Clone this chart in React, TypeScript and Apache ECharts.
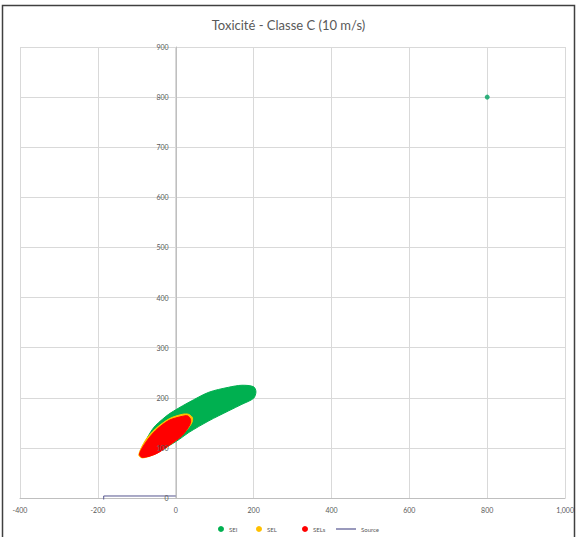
import React, { useEffect, useRef } from "react";
import * as echarts from "echarts";

const xTicks = [-400, -200, 0, 200, 400, 600, 800, 1000];
const yTicks = [0, 100, 200, 300, 400, 500, 600, 700, 800, 900];

const seiOutline: [number, number][] = [
  [-85, 95], [-60, 137], [-25, 163], [0, 176], [34, 191], [85, 211], [136, 221],
  [170, 225], [200, 222], [206, 212], [200, 199], [170, 187], [136, 174], [85, 154],
  [34, 131], [9, 117], [-25, 101], [-60, 89],
];
const seiPoints: [number, number][] = [[800, 800]];
const selOutline: [number, number][] = [
  [-95, 86], [-78, 115], [-52, 138], [-17, 158], [17, 167], [33, 167], [43, 160],
  [40, 148], [17, 126], [-17, 105], [-52, 88], [-85, 80],
];
const selsOutline: [number, number][] = [
  [-93, 88], [-76, 112], [-51, 135], [-17, 155], [17, 163], [30, 164], [38, 157],
  [36, 146], [17, 125], [-17, 105], [-51, 88], [-86, 81],
];
const sourceLine: [number, number][] = [[-185, -3], [-185, 4], [0, 4]];

const FONT = "Lato, 'Open Sans', sans-serif";
const SOURCE_COLOR = "#55558f";

const GRID_LEFT = 20;
const GRID_RIGHT = 9;
const CHART_W = 577;

function polySeries(name: string, color: string, outline: [number, number][], z: number) {
  return {
    name,
    type: "custom",
    z,
    itemStyle: { color },
    encode: { x: 0, y: 1 },
    data: outline,
    renderItem: (params: any, api: any) => {
      if (params.dataIndex !== 0) return null;
      const pts = outline.map((p) => api.coord(p));
      return {
        type: "polygon",
        shape: { points: pts, smooth: 0.3 },
        style: { fill: color, stroke: color, lineWidth: 1 },
      };
    },
  };
}

export default function App() {
  const ref = useRef<HTMLDivElement>(null);
  useEffect(() => {
    if (!ref.current) return;
    const chart = echarts.init(ref.current, undefined, { renderer: "svg" });
    const legendText = { fontFamily: FONT, fontSize: 6, color: "#595959" };
    const xMin = xTicks[0];
    const xMax = xTicks[xTicks.length - 1];
    const gridW = CHART_W - GRID_LEFT - GRID_RIGHT;
    const yAxisOffset = -((0 - xMin) / (xMax - xMin)) * gridW;
    const oneLegend = (name: string, left: number, icon?: string, w = 6) => ({
      top: 521,
      left,
      itemWidth: w,
      itemHeight: 6,
      textStyle: legendText,
      data: [icon ? { name, icon } : { name }],
    });
    const yBase = {
      type: "value",
      min: yTicks[0],
      max: yTicks[yTicks.length - 1],
      interval: 100,
      offset: yAxisOffset,
      position: "left",
      axisTick: { show: false },
    };
    chart.setOption({
      animation: false,
      backgroundColor: "#ffffff",
      title: {
        text: "Toxicité - Classe C (10 m/s)",
        left: "center",
        top: 13,
        textStyle: { fontFamily: FONT, fontSize: 13, fontWeight: "normal", color: "#595959" },
      },
      graphic: [
        {
          type: "rect",
          shape: { x: 2.5, y: 5.5, width: 572, height: 540 },
          style: { fill: "none", stroke: "#404040", lineWidth: 1.5 },
          silent: true,
        },
      ],
      legend: [
        oneLegend("SEI", 213, "circle"),
        oneLegend("SEL", 251, "circle"),
        oneLegend("SELs", 297, "circle"),
        oneLegend("Source", 331, "path://M0,0 L20,0 L20,1.2 L0,1.2 Z", 20),
      ],
      grid: { left: GRID_LEFT, right: GRID_RIGHT, top: 47, bottom: 39 },
      xAxis: {
        type: "value",
        min: xMin,
        max: xMax,
        interval: 200,
        axisLine: { show: true, onZero: false, lineStyle: { color: "#bfbfbf" } },
        axisTick: { show: false },
        axisLabel: { fontFamily: FONT, fontSize: 7, color: "#595959", margin: 8 },
        splitLine: { show: true, lineStyle: { color: "#d9d9d9" } },
      },
      yAxis: [
        {
          ...yBase,
          axisLine: { show: true, onZero: false, lineStyle: { color: "#bfbfbf" } },
          axisLabel: { show: false },
          splitLine: { show: true, lineStyle: { color: "#d9d9d9" } },
        },
        {
          ...yBase,
          z: 10,
          axisLine: { show: false, onZero: false },
          axisLabel: { fontFamily: FONT, fontSize: 7, color: "#595959", margin: 8 },
          splitLine: { show: false },
        },
      ],
      series: [
        polySeries("SEI", "#00b050", seiOutline, 2),
        {
          name: "SEI",
          type: "scatter",
          z: 3,
          symbol: "circle",
          symbolSize: 5,
          itemStyle: { color: "#00a060" },
          data: seiPoints,
        },
        polySeries("SEL", "#ffc000", selOutline, 3),
        polySeries("SELs", "#ff0000", selsOutline, 4),
        {
          name: "Source",
          type: "line",
          z: 5,
          symbol: "none",
          clip: false,
          lineStyle: { color: SOURCE_COLOR, width: 1 },
          itemStyle: { color: SOURCE_COLOR },
          data: sourceLine,
        },
      ],
    });
    return () => chart.dispose();
  }, []);
  return (
    <div
      ref={ref}
      style={{ position: "fixed", left: 0, top: 0, width: CHART_W, height: 537 }}
    />
  );
}
